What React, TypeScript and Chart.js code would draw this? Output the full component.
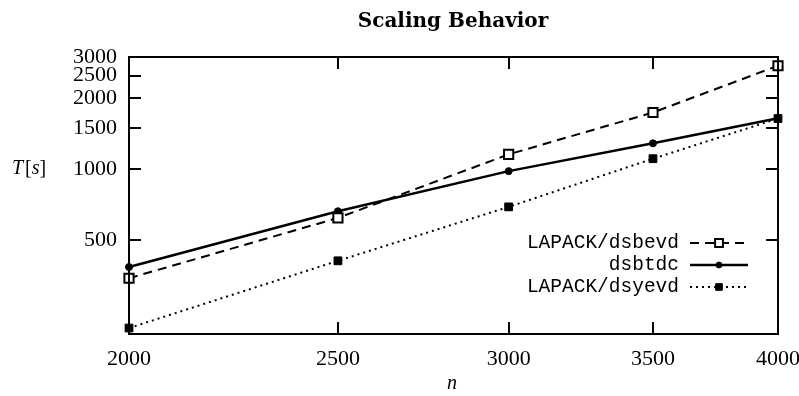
import React, { useEffect, useRef } from "react";
import { Chart, registerables } from "chart.js";
import { drawPoint } from "chart.js/helpers";

Chart.register(...registerables);

const nValues = [2000, 2500, 3000, 3500, 4000];
const dsbevd = [345, 622, 1158, 1744, 2754];
const dsbtdc = [385, 664, 983, 1290, 1650];
const dsyevd = [212, 409, 693, 1110, 1644];
const xTicks = [2000, 2500, 3000, 3500, 4000];
const yTicks = [500, 1000, 1500, 2000, 2500, 3000];
const seriesNames = ["LAPACK/dsbevd", "dsbtdc", "LAPACK/dsyevd"];
const titleText = "Scaling Behavior";
const xTitle = "n";

const SERIF = "'Liberation Serif', 'DejaVu Serif', serif";
const TITLE_SERIF = "'DejaVu Serif', serif";
const MONO = "'Liberation Mono', 'DejaVu Sans Mono', monospace";

const decorPlugin = {
  id: "decor",
  afterDraw(chart: any) {
    const ctx = chart.ctx;
    const a = chart.chartArea;
    const xs = chart.scales.x;
    const ys = chart.scales.y;
    ctx.save();
    ctx.strokeStyle = "#000";
    ctx.lineWidth = 2;
    const tl = 12;
    ctx.beginPath();
    for (const v of yTicks) {
      const y = Math.round(ys.getPixelForValue(v));
      ctx.moveTo(a.left, y);
      ctx.lineTo(a.left + tl, y);
      ctx.moveTo(a.right, y);
      ctx.lineTo(a.right - tl, y);
    }
    for (const v of xTicks) {
      const x = Math.round(xs.getPixelForValue(v));
      ctx.moveTo(x, a.bottom);
      ctx.lineTo(x, a.bottom - tl);
      ctx.moveTo(x, a.top);
      ctx.lineTo(x, a.top + tl);
    }
    ctx.stroke();
    ctx.strokeRect(a.left, a.top, a.right - a.left, a.bottom - a.top);

    // title
    ctx.fillStyle = "#000";
    ctx.textAlign = "center";
    ctx.textBaseline = "middle";
    ctx.font = `bold 20px ${TITLE_SERIF}`;
    ctx.fillText(titleText, 453, 22);

    // axis titles
    ctx.font = `italic 20px ${SERIF}`;
    ctx.fillText(xTitle, 452, 384);
    ctx.textAlign = "left";
    let x0 = 12;
    const parts: [string, boolean][] = [["T", true], ["[", false], ["s", true], ["]", false]];
    for (const [t, it] of parts) {
      ctx.font = `${it ? "italic " : ""}20px ${SERIF}`;
      ctx.fillText(t, x0, 169);
      x0 += ctx.measureText(t).width + (t === "T" ? 2 : 0);
    }

    // legend
    ctx.font = `19.5px ${MONO}`;
    ctx.textAlign = "right";
    const rows = [243, 265, 287];
    chart.data.datasets.forEach((ds: any, i: number) => {
      const y = rows[i];
      ctx.fillStyle = "#000";
      ctx.fillText(ds.label, 679, y);
      ctx.beginPath();
      ctx.setLineDash(ds.borderDash || []);
      ctx.lineWidth = ds.borderWidth;
      ctx.strokeStyle = "#000";
      ctx.moveTo(690, y);
      ctx.lineTo(748, y);
      ctx.stroke();
      ctx.setLineDash([]);
      const meta = chart.getDatasetMeta(i);
      const opts = meta.data[0].options;
      ctx.fillStyle = opts.backgroundColor;
      ctx.strokeStyle = opts.borderColor;
      ctx.lineWidth = opts.borderWidth;
      drawPoint(ctx, { ...opts, radius: opts.radius * 0.85 }, 719, y);
    });
    ctx.restore();
  },
};

export default function App() {
  const ref = useRef<HTMLCanvasElement | null>(null);
  useEffect(() => {
    document.body.style.margin = "0";
    const canvas = ref.current!;
    const chart = new Chart(canvas, {
      type: "line",
      data: {
        datasets: [
          {
            label: seriesNames[0],
            data: nValues.map((n, i) => ({ x: n, y: dsbevd[i] })),
            borderColor: "#000",
            backgroundColor: "#fff",
            borderWidth: 2,
            borderDash: [9, 6],
            pointStyle: "rect",
            pointRadius: 6.5,
            pointBorderWidth: 2,
            pointBorderColor: "#000",
            pointBackgroundColor: "#fff",
          },
          {
            label: seriesNames[1],
            data: nValues.map((n, i) => ({ x: n, y: dsbtdc[i] })),
            borderColor: "#000",
            backgroundColor: "#000",
            borderWidth: 2.5,
            pointStyle: "circle",
            pointRadius: 3.5,
            pointBorderWidth: 1,
            pointBorderColor: "#000",
            pointBackgroundColor: "#000",
          },
          {
            label: seriesNames[2],
            data: nValues.map((n, i) => ({ x: n, y: dsyevd[i] })),
            borderColor: "#000",
            backgroundColor: "#000",
            borderWidth: 2,
            borderDash: [2, 4],
            pointStyle: "rect",
            pointRadius: 5.5,
            pointBorderWidth: 1,
            pointBorderColor: "#000",
            pointBackgroundColor: "#000",
          },
        ],
      },
      options: {
        animation: false,
        responsive: false,
        maintainAspectRatio: false,
        layout: { padding: { left: 0, right: 21, top: 57, bottom: 0 } },
        plugins: {
          legend: { display: false },
          title: { display: false },
          tooltip: { enabled: false },
        },
        elements: { line: { tension: 0 } },
        datasets: { line: { clip: false } } as any,
        scales: {
          x: {
            type: "logarithmic",
            min: 2000,
            max: 4000,
            afterBuildTicks: (s: any) => {
              s.ticks = xTicks.map((v) => ({ value: v }));
            },
            afterFit: (s: any) => {
              s.height = 396 - 334;
              s.paddingLeft = 0;
              s.paddingRight = 0;
            },
            grid: { display: false, drawTicks: false },
            border: { display: false },
            ticks: {
              autoSkip: false,
              maxRotation: 0,
              padding: 12,
              color: "#000",
              font: { family: SERIF, size: 22 },
              callback: (v: any) => String(v),
            },
          },
          y: {
            type: "logarithmic",
            min: 200,
            max: 3000,
            afterBuildTicks: (s: any) => {
              s.ticks = yTicks.map((v) => ({ value: v }));
            },
            afterFit: (s: any) => {
              s.width = 129;
              s.paddingTop = 0;
              s.paddingBottom = 0;
            },
            grid: { display: false, drawTicks: false },
            border: { display: false },
            ticks: {
              autoSkip: false,
              padding: 12,
              color: "#000",
              font: { family: SERIF, size: 22 },
              callback: (v: any) => String(v),
            },
          },
        },
      },
      plugins: [decorPlugin],
    });
    return () => chart.destroy();
  }, []);
  return <canvas ref={ref} width={799} height={396} style={{ display: "block" }} />;
}
